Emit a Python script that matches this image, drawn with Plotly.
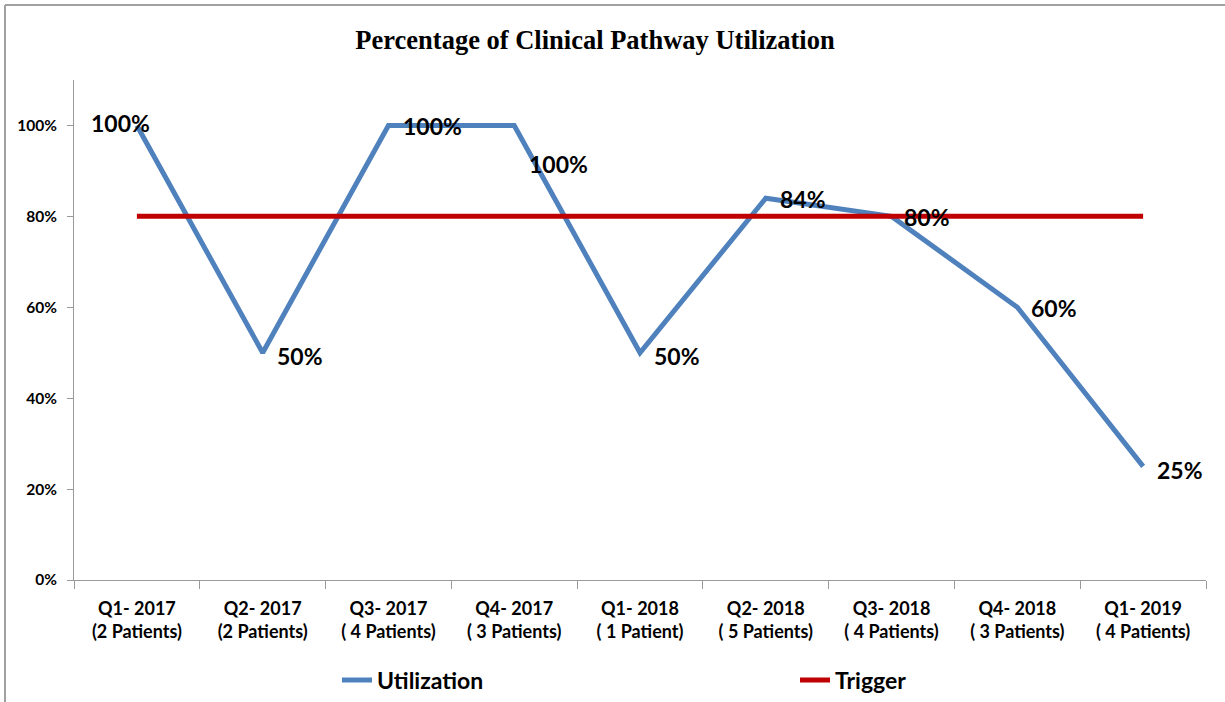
import plotly.graph_objects as go

categories = [
    "Q1- 2017<br>(2 Patients)", "Q2- 2017<br>(2 Patients)", "Q3- 2017<br>( 4 Patients)",
    "Q4- 2017<br>( 3 Patients)", "Q1- 2018<br>( 1 Patient)", "Q2- 2018<br>( 5 Patients)",
    "Q3- 2018<br>( 4 Patients)", "Q4- 2018<br>( 3 Patients)", "Q1- 2019<br>( 4 Patients)",
]
utilization = [1.00, 0.50, 1.00, 1.00, 0.50, 0.84, 0.80, 0.60, 0.25]
trigger = [0.80] * 9
label_text = ["100%", "50%", "100%", "100%", "50%", "84%", "80%", "60%", "25%"]
ytick_vals = [0, 0.2, 0.4, 0.6, 0.8, 1.0]
ytick_text = ["0%", "20%", "40%", "60%", "80%", "100%"]

BLUE = "#4F81BD"
RED = "#C00000"
FONT = "Lato"

fig = go.Figure()
fig.add_trace(go.Scatter(x=categories, y=utilization, mode="lines", name="Utilization",
                         line=dict(color=BLUE, width=5), legend="legend"))
fig.add_trace(go.Scatter(x=categories, y=trigger, mode="lines", name="Trigger",
                         line=dict(color=RED, width=5), legend="legend2"))

# per-label offsets (pixels) to mimic manual label placement
shifts = [(-16, 2, "center"), (12, -3, "left"), (13, -1, "left"), (13, -39, "left"), (12, -3, "left"),
          (12, -1, "left"), (10, -1, "left"), (12, -1, "left"), (12, -4, "left")]
for c, v, t, (dx, dy, anc) in zip(categories, utilization, label_text, shifts):
    fig.add_annotation(x=c, y=v, text=t, showarrow=False, xanchor=anc, yanchor="middle",
                       xshift=dx, yshift=dy,
                       font=dict(family=FONT, size=23, color="black", weight="bold"))

legend_font = dict(family=FONT, size=23, color="black", weight="bold")
fig.update_layout(
    width=1225, height=702,
    margin=dict(l=74, r=19, t=80, b=122, autoexpand=False),
    paper_bgcolor="white", plot_bgcolor="white",
    title=dict(text="<b>Percentage of Clinical Pathway Utilization</b>", x=595 / 1225, xanchor="center",
               y=1 - 40 / 702, yanchor="middle",
               font=dict(family="Liberation Serif", size=26.5, color="black")),
    showlegend=True,
    legend=dict(orientation="h", x=(337 - 74) / 1132, xanchor="left", y=-0.2, yanchor="middle",
                font=legend_font, bgcolor="rgba(0,0,0,0)"),
    legend2=dict(orientation="h", x=(795 - 74) / 1132, xanchor="left", y=-0.2, yanchor="middle",
                 font=legend_font, bgcolor="rgba(0,0,0,0)"),
    xaxis=dict(showgrid=False, showline=True, linecolor="#9A9A9A", linewidth=1,
               ticks="outside", ticklen=8, tickcolor="#9A9A9A", tickson="boundaries",
               ticklabelstandoff=12,
               tickfont=dict(family=FONT, size=18, color="black", weight="bold"),
               range=[-0.5, 8.5], automargin=False),
    yaxis=dict(range=[0, 1.1], showgrid=False, showline=True, linecolor="#9A9A9A", linewidth=1,
               ticks="outside", ticklen=6, tickcolor="#9A9A9A", ticklabelstandoff=7,
               tickvals=ytick_vals, ticktext=ytick_text, zeroline=False, automargin=False,
               tickfont=dict(family=FONT, size=15.5, color="black", weight="bold")),
)

# outer chart frame (top and left edges visible)
fig.add_shape(type="line", xref="paper", yref="paper", x0=(5 - 74) / 1132, x1=1.03,
              y0=(580 - 5) / 500, y1=(580 - 5) / 500, line=dict(color="#A0A0A0", width=2))
fig.add_shape(type="line", xref="paper", yref="paper", x0=(5 - 74) / 1132, x1=(5 - 74) / 1132,
              y0=(580 - 5) / 500, y1=-0.3, line=dict(color="#A0A0A0", width=2))

fig.write_html("out.html", config={"displayModeBar": False},
               post_script="document.body.style.margin='0';document.body.style.overflow='hidden';")
